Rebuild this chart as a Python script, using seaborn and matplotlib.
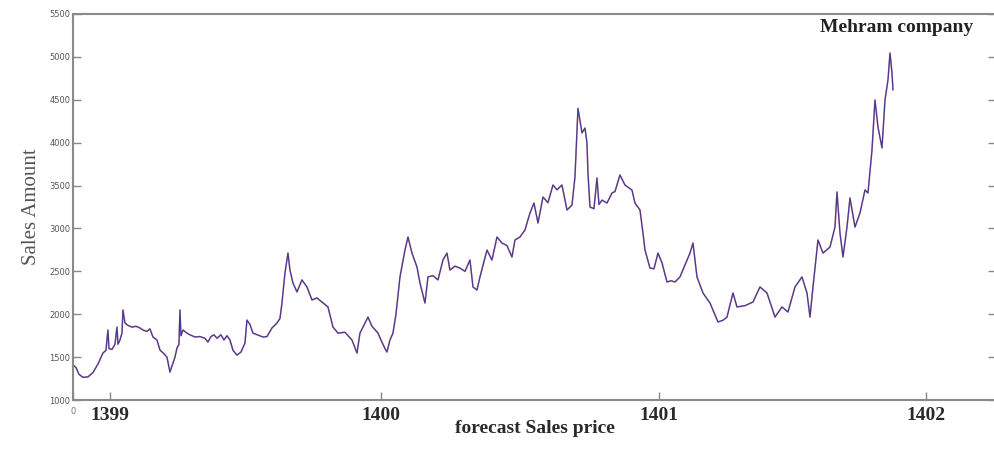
import numpy as np
import pandas as pd
import seaborn as sns
import matplotlib.pyplot as plt

# --- dados (índice do dia, valor) ---
days = [1, 3, 6, 10, 15, 20, 25, 30, 33, 35, 36, 39, 42, 44, 45, 47, 49, 50, 52, 55,
        59, 63, 67, 70, 74, 77, 80, 84, 87, 91, 94, 97, 100, 102, 104, 106, 107, 108, 110, 114,
        117, 122, 127, 132, 135, 138, 141, 144, 148, 151, 154, 157, 160, 164, 168, 172, 174, 177, 180, 185,
        190, 194, 199, 204, 207, 209, 212, 215, 217, 220, 224, 229, 234, 239, 244, 249, 255, 260, 265, 272,
        279, 284, 287, 290, 295, 299, 305, 308, 312, 314, 317, 320, 323, 327, 332, 335, 339, 344, 347, 352,
        355, 360, 365, 370, 374, 377, 382, 387, 392, 397, 400, 404, 407, 414, 419, 424, 429, 434, 439, 442,
        447, 452, 457, 461, 465, 470, 475, 480, 484, 489, 494, 499, 502, 505, 509, 512, 514, 515, 517, 521,
        524, 526, 529, 534, 539, 542, 547, 552, 559, 562, 567, 570, 572, 577, 581, 585, 589, 594, 598, 602,
        607, 612, 617, 620, 624, 630, 637, 645, 650, 654, 660, 664, 672, 680, 687, 694, 702, 709, 715, 722,
        729, 734, 737, 740, 745, 750, 757, 762, 764, 767, 770, 774, 777, 782, 787, 792, 795, 799, 802, 805,
        809, 812, 815, 817, 819, 820]

sales = [1400, 1380, 1300, 1265, 1270, 1320, 1420, 1548, 1580, 1816, 1600, 1590, 1650, 1851, 1650, 1700, 1780, 2050, 1898, 1870,
         1850, 1860, 1840, 1816, 1800, 1830, 1735, 1700, 1583, 1540, 1500, 1326, 1431, 1500, 1606, 1650, 2050, 1750, 1816, 1780,
         1760, 1735, 1740, 1720, 1676, 1740, 1760, 1720, 1760, 1700, 1750, 1700, 1580, 1524, 1560, 1664, 1932, 1880, 1780, 1758,
         1735, 1740, 1840, 1898, 1950, 2131, 2480, 2713, 2515, 2364, 2260, 2400, 2318, 2167, 2190, 2143, 2085, 1851, 1780, 1790,
         1700, 1548, 1780, 1851, 1967, 1860, 1780, 1700, 1600, 1560, 1700, 1780, 2000, 2435, 2748, 2900, 2713, 2550, 2364, 2131,
         2435, 2450, 2400, 2632, 2713, 2515, 2560, 2538, 2500, 2632, 2318, 2283, 2435, 2748, 2632, 2900, 2830, 2800, 2667, 2865,
         2900, 2982, 3180, 3296, 3063, 3366, 3300, 3506, 3450, 3506, 3215, 3273, 3600, 4400, 4113, 4170, 3996, 3646, 3250, 3230,
         3588, 3280, 3330, 3296, 3413, 3430, 3623, 3506, 3448, 3296, 3215, 2947, 2748, 2538, 2530, 2713, 2600, 2376, 2390, 2376,
         2435, 2573, 2713, 2830, 2435, 2248, 2131, 1910, 1930, 1967, 2248, 2085, 2100, 2143, 2318, 2248, 1967, 2085, 2026, 2318,
         2435, 2248, 1967, 2318, 2865, 2713, 2783, 3016, 3425, 2947, 2667, 3016, 3355, 3016, 3180, 3448, 3413, 3914, 4497, 4182,
         3938, 4497, 4730, 5045, 4812, 4614]

tick_pos = [0, 37, 308, 586, 853]
tick_labels = ['0', '1399', '1400', '1401', '1402']
y_ticks = list(range(1000, 6000, 500))

df = pd.DataFrame({'day': days, 'sales': sales})

sns.set_style("white")
plt.rcParams['font.family'] = ['Liberation Serif', 'DejaVu Serif']

fig = plt.figure(figsize=(9.94, 4.49), dpi=100)
ax = fig.add_axes([0.0734, 0.109, 0.9286, 0.860])

# previsão (vermelho) por baixo, real (azul) por cima -> tom roxo
sns.lineplot(data=df, x='day', y='sales', ax=ax, color='#c83a5a', lw=1.2, alpha=0.5)
sns.lineplot(data=df, x='day', y='sales', ax=ax, color='#34308c', lw=0.9, alpha=0.9)

ax.set_xlim(0, 923)
ax.set_ylim(1000, 5500)
ax.set_yticks(y_ticks)
ax.set_yticklabels([str(v) for v in y_ticks], fontsize=6, color='#555555',
                   family=['DejaVu Sans'])
ax.set_xticks(tick_pos)
ax.set_xticklabels(tick_labels, fontsize=14, color='#2a2a2a', weight='bold')
lbls = ax.get_xticklabels()
lbls[0].set_fontsize(6)
lbls[0].set_weight('normal')
lbls[0].set_family(['DejaVu Sans'])
lbls[0].set_color('#777777')

ax.tick_params(axis='both', direction='in', length=6, width=1, color='#888888',
               left=True, right=True, bottom=True)
ax.tick_params(axis='x', pad=5)
ax.tick_params(axis='y', pad=2)

for s in ax.spines.values():
    s.set_color('#8a8a8a')
    s.set_linewidth(1.5)

ax.set_xlabel('forecast Sales price', fontsize=14, color='#2a2a2a', weight='bold',
              labelpad=-3)
ax.set_ylabel('Sales Amount', fontsize=15, color='#555555', labelpad=6)
ax.text(0.975, 0.965, 'Mehram company', transform=ax.transAxes, ha='right', va='center',
        fontsize=14, color='#222222', weight='bold')

fig.savefig('out.png', dpi=100)
